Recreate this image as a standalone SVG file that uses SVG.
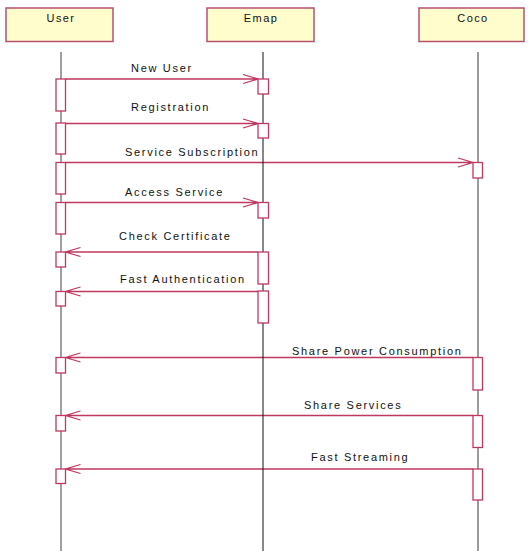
<svg xmlns="http://www.w3.org/2000/svg" width="528" height="551" viewBox="0 0 528 551">
<style>
.hdr{fill:#fffdcc;stroke:#b8506f;stroke-width:1.5}
.hl{font-family:"Liberation Sans",Arial,sans-serif;font-size:11px;letter-spacing:1.4px;fill:#111;text-anchor:middle}
.act{fill:#fff;stroke:#c0385f;stroke-width:1.3}
.msg{stroke:#c0385f;stroke-width:1.3;fill:none}
.lbl{font-family:"Liberation Sans",Arial,sans-serif;font-size:11px;letter-spacing:1.7px;fill:#111}
</style>
<rect width="528" height="551" fill="#fff"/>
<g id="connectors">
<path class="msg" d="M65.5,79H258M243,74.5L258,79L243,83.5"/>
<path class="msg" d="M65.5,123.5H258M243,119L258,123.5L243,128"/>
<path class="msg" d="M65.5,162.5H473M458,158L473,162.5L458,167"/>
<path class="msg" d="M65.5,202.5H258M243,198L258,202.5L243,207"/>
<path class="msg" d="M258,252H65.5M80.5,247.5L65.5,252L80.5,256.5"/>
<path class="msg" d="M258,291.5H65.5M80.5,287L65.5,291.5L80.5,296"/>
<path class="msg" d="M473,357.5H65.5M80.5,353L65.5,357.5L80.5,362"/>
<path class="msg" d="M473,415.5H65.5M80.5,411L65.5,415.5L80.5,420"/>
<path class="msg" d="M473,469H65.5M80.5,464.5L65.5,469L80.5,473.5"/>
<text class="lbl" x="131" y="72.3">New User</text>
<text class="lbl" x="131" y="111">Registration</text>
<text class="lbl" x="125" y="155.7">Service Subscription</text>
<text class="lbl" x="125" y="195.7">Access Service</text>
<text class="lbl" x="119" y="240">Check Certificate</text>
<text class="lbl" x="120" y="283.3">Fast Authentication</text>
<text class="lbl" x="292" y="355">Share Power Consumption</text>
<text class="lbl" x="304" y="408.7">Share Services</text>
<text class="lbl" x="311" y="460.7">Fast Streaming</text>
</g>
<g id="user">
<rect class="hdr" x="6" y="8" width="107" height="33.5"/>
<text class="hl" x="61" y="21.5">User</text>
<line x1="61" y1="52" x2="61" y2="551" stroke="#808080" stroke-width="1.5"/>
<rect class="act" x="56" y="79" width="9.5" height="32"/>
<rect class="act" x="56" y="123" width="9.5" height="31"/>
<rect class="act" x="56" y="162.5" width="9.5" height="31.5"/>
<rect class="act" x="56" y="202.5" width="9.5" height="31.5"/>
<rect class="act" x="56" y="252" width="9.5" height="15"/>
<rect class="act" x="56" y="291.5" width="9.5" height="14.5"/>
<rect class="act" x="56" y="357.5" width="9.5" height="15.5"/>
<rect class="act" x="56" y="415.5" width="9.5" height="15.5"/>
<rect class="act" x="56" y="469" width="9.5" height="14.5"/>
</g>
<g id="emap">
<rect class="hdr" x="207" y="8" width="107" height="33.5"/>
<text class="hl" x="261" y="21.5">Emap</text>
<line x1="263" y1="52" x2="263" y2="551" stroke="#111" stroke-width="1"/>
<rect class="act" x="258" y="79" width="10.5" height="15"/>
<rect class="act" x="258" y="123.5" width="10.5" height="14.5"/>
<rect class="act" x="258" y="202.5" width="10.5" height="15.5"/>
<rect class="act" x="258" y="252" width="10.5" height="32"/>
<rect class="act" x="258" y="291" width="10.5" height="32"/>
</g>
<g id="coco">
<rect class="hdr" x="419" y="8" width="105" height="33.5"/>
<text class="hl" x="473" y="21.5">Coco</text>
<line x1="478" y1="52" x2="478" y2="551" stroke="#666" stroke-width="1.3"/>
<rect class="act" x="473" y="162.5" width="9.5" height="15.5"/>
<rect class="act" x="473" y="357.5" width="9.5" height="32.5"/>
<rect class="act" x="473" y="415.5" width="9.5" height="32"/>
<rect class="act" x="473" y="469" width="9.5" height="31"/>
</g>
</svg>
